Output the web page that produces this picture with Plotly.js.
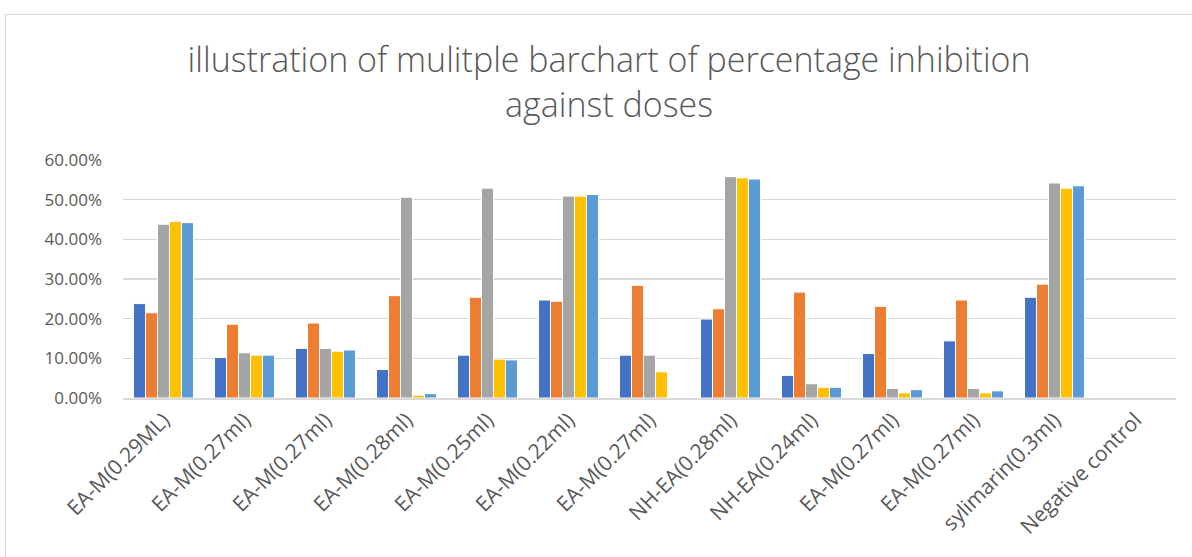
<!DOCTYPE html>
<html>
<head>
<meta charset="utf-8">
<script src="https://cdn.plot.ly/plotly-3.0.1.min.js"></script>
<style>
html,body{margin:0;padding:0;background:#fff;overflow:hidden;}
#frame{position:absolute;left:5px;top:14px;width:1300px;height:700px;border:1px solid #d9d9d9;box-sizing:border-box;}
#chart{position:absolute;left:0;top:0;width:1192px;height:557px;}
</style>
</head>
<body>
<div id="frame"></div>
<div id="chart"></div>
<script>
const categories = ["EA-M(0.29ML)","EA-M(0.27ml)","EA-M(0.27ml)","EA-M(0.28ml)","EA-M(0.25ml)","EA-M(0.22ml)","EA-M(0.27ml)","NH-EA(0.28ml)","NH-EA(0.24ml)","EA-M(0.27ml)","EA-M(0.27ml)","sylimarin(0.3ml)","Negative control"];
const series1 = [0.238,0.102,0.125,0.072,0.108,0.247,0.108,0.199,0.057,0.112,0.144,0.254,null];
const series2 = [0.215,0.186,0.189,0.258,0.254,0.244,0.284,0.225,0.267,0.231,0.247,0.287,null];
const series3 = [0.438,0.114,0.125,0.506,0.529,0.509,0.108,0.558,0.036,0.024,0.024,0.542,null];
const series4 = [0.445,0.108,0.118,0.007,0.098,0.509,0.066,0.555,0.027,0.013,0.013,0.529,null];
const series5 = [0.442,0.108,0.121,0.011,0.096,0.513,null,0.552,0.027,0.021,0.018,0.535,null];
const seriesNames = ["Series1","Series2","Series3","Series4","Series5"];
const seriesColors = ["#4472c4","#ed7d31","#a5a5a5","#ffc000","#5b9bd5"];
const allSeries = [series1,series2,series3,series4,series5];

const idx = categories.map((c,i)=>i);
const traces = allSeries.map((vals,k)=>({
  type:'bar',
  name:seriesNames[k],
  x:idx,
  y:vals,
  marker:{color:seriesColors[k],line:{color:'#ffffff',width:1}},
  showlegend:false
}));

const fontFam = '"Open Sans", "Noto Sans", sans-serif';
const layout = {
  width:1192,height:557,
  paper_bgcolor:'rgba(0,0,0,0)',
  plot_bgcolor:'rgba(0,0,0,0)',
  margin:{l:123,r:16,t:160,b:159},
  title:{
    text:'illustration of mulitple barchart of percentage inhibition<br>against doses',
    font:{family:fontFam,size:34,color:'#595959',weight:300},
    x:0.511,xanchor:'center',
    y:0.870,yanchor:'middle'
  },
  barmode:'group',
  bargap:0.26,
  bargroupgap:0,
  xaxis:{
    range:[-0.5,12.5],
    tickmode:'array',
    tickvals:idx,
    ticktext:categories,
    tickangle:-45,
    tickfont:{family:fontFam,size:21,color:'#595959'},
    showgrid:false,
    showline:true,
    linecolor:'#d9d9d9',
    linewidth:1.5,
    ticks:'',
    zeroline:false,
    fixedrange:true
  },
  yaxis:{
    range:[0,0.6],
    dtick:0.1,
    tick0:0,
    tickformat:'.2%',
    tickfont:{family:fontFam,size:17,color:'#595959'},
    showgrid:true,
    gridcolor:'#d9d9d9',
    gridwidth:1.5,
    zeroline:false,
    showline:false,
    ticks:'',
    ticklabelstandoff:20,
    fixedrange:true
  }
};
Plotly.newPlot('chart',traces,layout,{displayModeBar:false,staticPlot:true});
</script>
</body>
</html>
